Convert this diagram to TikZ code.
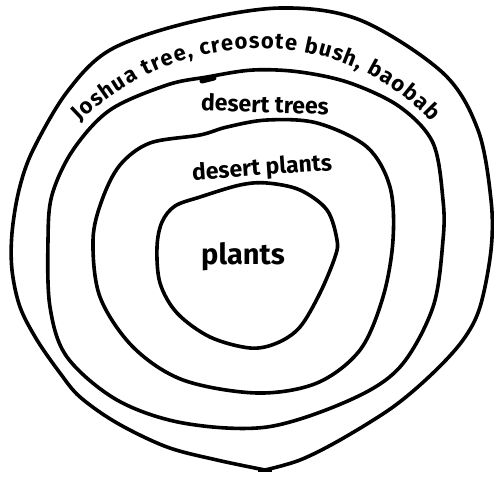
\documentclass[tikz,border=0pt]{standalone}
\usepackage{fontspec}
\setmainfont{Fira Sans}
\usetikzlibrary{decorations.text}
\begin{document}
\begin{tikzpicture}[x=1pt,y=-1pt,
  ring/.style={line width=3.6pt, line join=round, line cap=round},
  lbl/.style={font=\bfseries, inner sep=0pt}]
\useasboundingbox (0,0) rectangle (494,479);
% outer ring (pointed bottom)
\draw[ring] plot[smooth, tension=0.55] coordinates {(265,470) (217,460) (167,447) (117,423) (80,397) (60,373) (37,340) (20,307) (12,270) (12,233) (19,190) (33,150) (67,92) (110,50) (187,23) (280,8) (360,20) (443,73) (478,130) (491,200) (491,250) (480,307) (463,340) (433,373) (393,407) (340,440) (300,460) (265,470)};
\draw[line width=4.5pt] (258,470) -- (272,470);
% second ring
\draw[ring] plot[smooth cycle, tension=0.55] coordinates {(48,240) (52,195) (73,150) (110,110) (167,85) (207,77) (253,70) (300,72) (350,83) (400,107) (433,143) (443,200) (443,240) (433,307) (400,367) (350,400) (267,427) (183,423) (117,400) (67,357) (50,307)};
\draw[line width=5pt, line cap=round] (202,81) -- (214,78);
% third ring
\draw[ring] plot[smooth cycle, tension=0.55] coordinates {(93,240) (102,200) (120,165) (150,143) (200,135) (227,127) (267,120) (317,123) (367,147) (390,187) (393,240) (383,297) (360,350) (317,383) (257,393) (183,380) (133,347) (100,297)};
% inner ring
\draw[ring] plot[smooth cycle, tension=0.55] coordinates {(157,247) (162,222) (175,206) (200,197) (240,185) (267,183) (300,190) (327,210) (337,240) (335,257) (320,293) (300,327) (277,343) (250,348) (210,337) (177,313) (160,283)};
% labels
\node[lbl, font=\fontsize{29}{29}\selectfont\bfseries] (plants) at (243,257) {plants};
\node[lbl, font=\fontsize{23}{23}\selectfont\bfseries, rotate=4] (dplants) at (262,169) {desert plants};
\node[lbl, font=\fontsize{23}{23}\selectfont\bfseries, rotate=-2] (dtrees) at (265,104) {desert trees};
\path[decorate, decoration={text along path, text align=fit to path,
  text={|\fontsize{22}{22}\selectfont\bfseries|Joshua tree, creosote bush, baobab}}]
  (80,122) .. controls (170,34) and (330,14) .. (431,122);
\end{tikzpicture}
\end{document}
